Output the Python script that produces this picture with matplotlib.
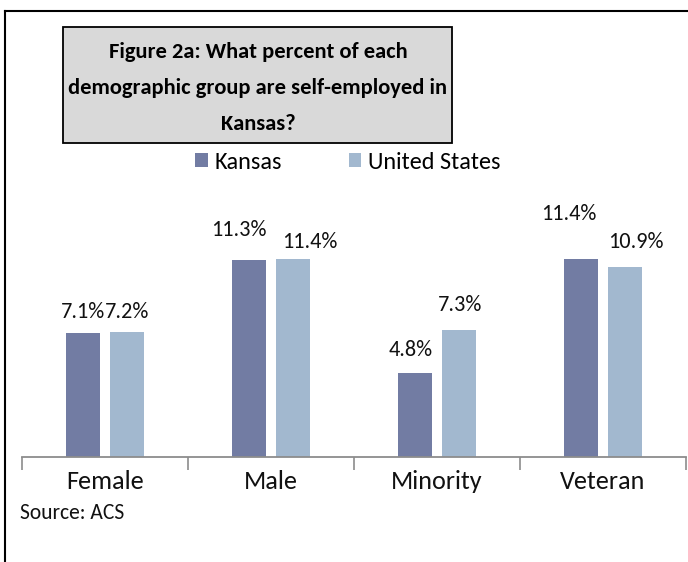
import matplotlib.pyplot as plt
from matplotlib.patches import Rectangle
import numpy as np

categories = ["Female", "Male", "Minority", "Veteran"]
kansas = [7.1, 11.3, 4.8, 11.4]
united_states = [7.2, 11.4, 7.3, 10.9]
series_names = ["Kansas", "United States"]

# label offsets (points) for data labels, layout only
k_off = [(0, 8), (-7, 15), (-3, 10), (-9, 25)]
u_off = [(0, 7), (12, 5), (1, 11), (8, 11)]

plt.rcParams['font.family'] = ['Carlito', 'Lato', 'DejaVu Sans']
W, H = 688, 562
fig = plt.figure(figsize=(W / 100, H / 100), dpi=100)

def fx(px):
    return px / W

def fy(py):
    return 1 - py / H

# outer border
fig.add_artist(plt.Line2D([fx(5), fx(5)], [fy(11), 0], color='black', lw=1.5))
fig.add_artist(plt.Line2D([fx(5), 1], [fy(11), fy(11)], color='black', lw=1.5))

# title box
fig.add_artist(Rectangle((fx(63), fy(143)), fx(452) - fx(63), fy(27) - fy(143),
                         transform=fig.transFigure, facecolor='#D9D9D9',
                         edgecolor='black', lw=1.3))
fig.text(fx(258), fy(88), "Figure 2a: What percent of each\ndemographic group are self-employed in\nKansas?",
         ha='center', va='center', fontsize=16.2, fontweight='bold', linespacing=2.0)

colors = ['#727CA3', '#A2B8CF']

base = 457
ymax = 14
pxu = 17.4
ax = fig.add_axes([fx(22), fy(base), fx(686) - fx(22), ymax * pxu / H])
x = np.arange(len(categories))
bw = 0.205
gap = 0.06
b1 = ax.bar(x - (bw + gap) / 2, kansas, bw, color=colors[0], label=series_names[0])
b2 = ax.bar(x + (bw + gap) / 2, united_states, bw, color=colors[1], label=series_names[1])

for bars, vals, offs in ((b1, kansas, k_off), (b2, united_states, u_off)):
    for r, v, o in zip(bars, vals, offs):
        ax.annotate(f"{v:.1f}%", (r.get_x() + r.get_width() / 2, v), xytext=o,
                    textcoords='offset points', ha='center', va='bottom',
                    fontsize=16, color='#111111', annotation_clip=False)

ax.set_xlim(-0.5, len(categories) - 0.5)
ax.set_ylim(0, ymax)
for s in ['top', 'right', 'left']:
    ax.spines[s].set_visible(False)
ax.spines['bottom'].set_color('#8C8C8C')
ax.spines['bottom'].set_linewidth(1.3)
ax.set_yticks([])
ax.set_xticks(np.arange(-0.5, len(categories), 1.0))
ax.set_xticklabels([])
ax.tick_params(axis='x', length=9, width=1.2, color='#8C8C8C', direction='out')
for i, c in enumerate(categories):
    ax.text(i, -1.4, c, ha='center', va='center', fontsize=18.8, color='#111111')

ax.legend(loc='center', ncol=2, frameon=False, fontsize=17.4, handlelength=0.5,
          handleheight=0.5, columnspacing=2.75, handletextpad=0.3)
leg = ax.get_legend()
leg.set_bbox_to_anchor((fx(348), fy(162)), transform=fig.transFigure)

fig.text(fx(20), fy(513), "Source: ACS", ha='left', va='center', fontsize=15.5, color='#111111')

fig.savefig('out.png', dpi=100)
